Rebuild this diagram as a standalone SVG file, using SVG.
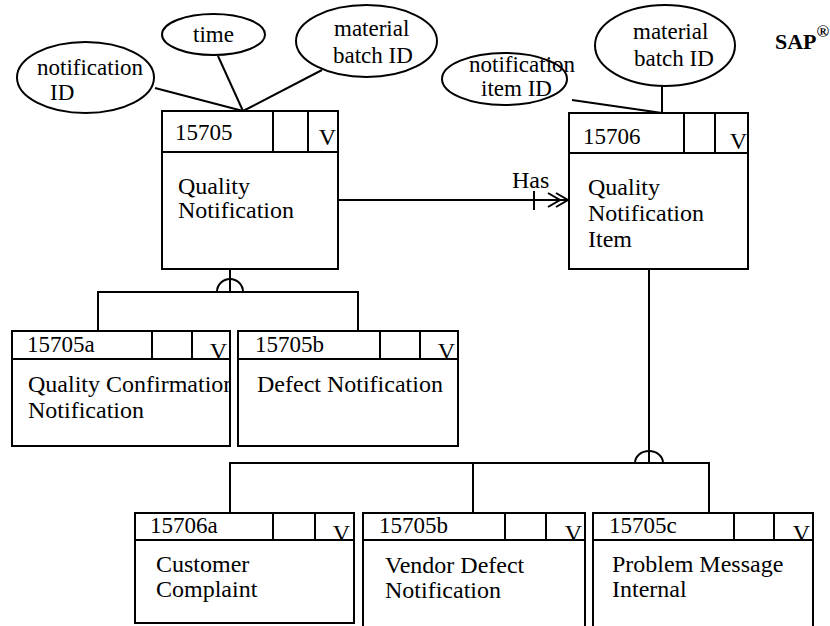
<svg xmlns="http://www.w3.org/2000/svg" width="830" height="626" viewBox="0 0 830 626">
<defs>
<style>
.ln{fill:none;stroke:#000;stroke-width:2}
.bx{fill:#fff;stroke:#000;stroke-width:2}
.el{fill:#fff;stroke:#000;stroke-width:2}
text{font-family:"Liberation Serif","Times New Roman",serif;fill:#000}
.t{font-size:24px}
.e{font-size:23px}
.id{font-size:23px}
.v{font-size:24px;text-anchor:end}
</style>
<clipPath id="clipA"><rect x="12" y="359" width="217" height="87"/></clipPath>
</defs>
<rect width="830" height="626" fill="#fff"/>

<g id="connectors">
<line class="ln" x1="155" y1="88" x2="243" y2="111"/>
<line class="ln" x1="218" y1="56" x2="243" y2="111"/>
<line class="ln" x1="322" y1="70" x2="243" y2="111"/>
<line class="ln" x1="572" y1="100" x2="662" y2="113"/>
<line class="ln" x1="662" y1="86" x2="662" y2="113"/>
<line class="ln" x1="338" y1="200" x2="569" y2="200"/>
<line class="ln" x1="534" y1="191" x2="534" y2="210"/>
<polyline class="ln" points="548,193 560,200 548,207"/>
<polyline class="ln" points="556,193 568,200 556,207"/>
<line class="ln" x1="230" y1="269" x2="230" y2="292"/>
<path class="ln" d="M217,292 A13,13 0 0 1 243,292"/>
<polyline class="ln" points="98,331 98,292 358,292 358,331"/>
<line class="ln" x1="649" y1="269" x2="649" y2="463"/>
<path class="ln" d="M635,463 A14,12 0 0 1 663,463"/>
<polyline class="ln" points="230,513 230,463 709,463 709,513"/>
<line class="ln" x1="473" y1="463" x2="473" y2="513"/>
<text class="t" x="512" y="188">Has</text>
</g>

<g id="attr-notification-id">
<ellipse class="el" cx="85.5" cy="77.5" rx="68.5" ry="35.5"/>
<text class="e" x="37" y="75">notification</text>
<text class="e" x="50" y="100">ID</text>
</g>
<g id="attr-time">
<ellipse class="el" cx="213.5" cy="34.5" rx="51.5" ry="20.5"/>
<text class="e" x="213.5" y="42" text-anchor="middle">time</text>
</g>
<g id="attr-material-batch-1">
<ellipse class="el" cx="366.5" cy="41" rx="70.5" ry="36"/>
<text class="e" x="334" y="36">material</text>
<text class="e" x="333" y="63">batch ID</text>
</g>
<g id="attr-notification-item-id">
<ellipse class="el" cx="504.5" cy="79" rx="62.5" ry="26"/>
<text class="e" x="469" y="72">notification</text>
<text class="e" x="481" y="96">item ID</text>
</g>
<g id="attr-material-batch-2">
<ellipse class="el" cx="665" cy="45.5" rx="70" ry="40.5"/>
<text class="e" x="633" y="39">material</text>
<text class="e" x="634" y="66">batch ID</text>
</g>

<g id="sap"><text x="775" y="49" font-size="22" font-weight="bold">SAP<tspan font-size="17" dy="-12">®</tspan></text></g>

<g id="n15705">
<rect class="bx" x="162" y="111" width="176" height="158"/>
<line class="ln" x1="162" y1="152" x2="338" y2="152"/>
<line class="ln" x1="273" y1="111" x2="273" y2="152"/>
<line class="ln" x1="308" y1="111" x2="308" y2="152"/>
<text class="id" x="175" y="140">15705</text>
<text class="v" x="336" y="145">V</text>
<text class="t" x="178" y="194">Quality</text>
<text class="t" x="178" y="218">Notification</text>
</g>

<g id="n15706">
<rect class="bx" x="569" y="113" width="179" height="156"/>
<line class="ln" x1="569" y1="153" x2="748" y2="153"/>
<line class="ln" x1="684" y1="113" x2="684" y2="153"/>
<line class="ln" x1="715" y1="113" x2="715" y2="153"/>
<text class="id" x="583" y="144">15706</text>
<text class="v" x="747" y="149">V</text>
<text class="t" x="588" y="195">Quality</text>
<text class="t" x="588" y="221">Notification</text>
<text class="t" x="588" y="247">Item</text>
</g>

<g id="n15705a">
<rect class="bx" x="12" y="331" width="218" height="115"/>
<line class="ln" x1="12" y1="359" x2="230" y2="359"/>
<line class="ln" x1="152" y1="331" x2="152" y2="359"/>
<line class="ln" x1="192" y1="331" x2="192" y2="359"/>
<text class="id" x="27" y="352">15705a</text>
<text class="v" x="227" y="359">V</text>
<g clip-path="url(#clipA)">
<text class="t" x="28" y="392">Quality Confirmation</text>
<text class="t" x="28" y="418">Notification</text>
</g>
</g>

<g id="n15705b">
<rect class="bx" x="238" y="331" width="220" height="115"/>
<line class="ln" x1="238" y1="359" x2="458" y2="359"/>
<line class="ln" x1="380" y1="331" x2="380" y2="359"/>
<line class="ln" x1="420" y1="331" x2="420" y2="359"/>
<text class="id" x="255" y="352">15705b</text>
<text class="v" x="455" y="359">V</text>
<text class="t" x="257" y="392">Defect Notification</text>
</g>

<g id="n15706a">
<rect class="bx" x="135" y="513" width="219" height="110"/>
<line class="ln" x1="135" y1="540" x2="354" y2="540"/>
<line class="ln" x1="273" y1="513" x2="273" y2="540"/>
<line class="ln" x1="315" y1="513" x2="315" y2="540"/>
<text class="id" x="150" y="533">15706a</text>
<text class="v" x="350" y="541">V</text>
<text class="t" x="156" y="572">Customer</text>
<text class="t" x="156" y="597">Complaint</text>
</g>

<g id="n15705b-2">
<rect class="bx" x="363" y="513" width="222" height="120"/>
<line class="ln" x1="363" y1="540" x2="585" y2="540"/>
<line class="ln" x1="505" y1="513" x2="505" y2="540"/>
<line class="ln" x1="546" y1="513" x2="546" y2="540"/>
<text class="id" x="379" y="533">15705b</text>
<text class="v" x="582" y="541">V</text>
<text class="t" x="385" y="573">Vendor Defect</text>
<text class="t" x="385" y="598">Notification</text>
</g>

<g id="n15705c">
<rect class="bx" x="593" y="513" width="220" height="120"/>
<line class="ln" x1="593" y1="540" x2="813" y2="540"/>
<line class="ln" x1="734" y1="513" x2="734" y2="540"/>
<line class="ln" x1="774" y1="513" x2="774" y2="540"/>
<text class="id" x="609" y="533">15705c</text>
<text class="v" x="810" y="541">V</text>
<text class="t" x="612" y="572">Problem Message</text>
<text class="t" x="612" y="597">Internal</text>
</g>
</svg>
